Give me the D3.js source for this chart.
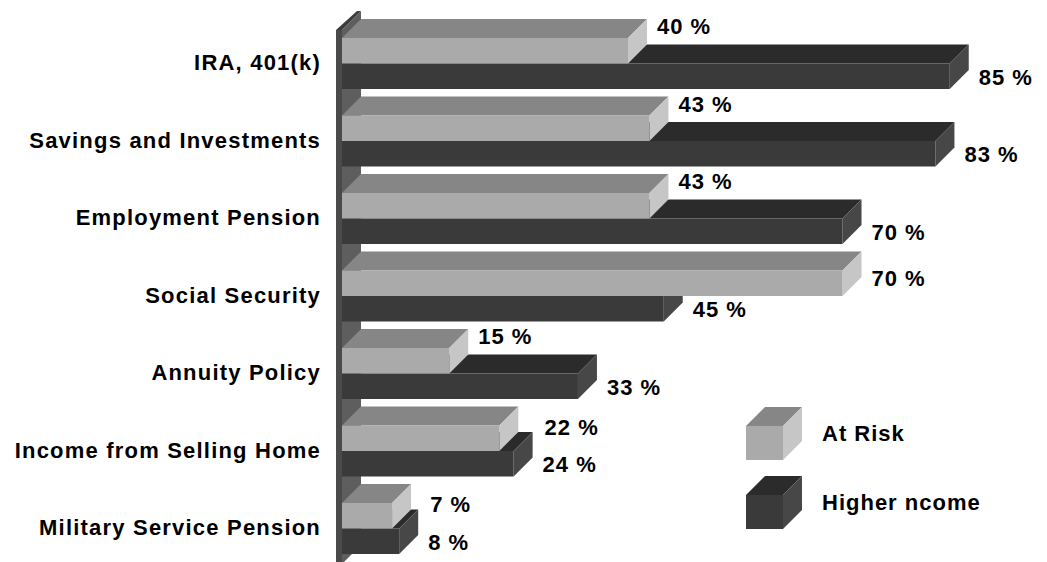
<!DOCTYPE html>
<html>
<head>
<meta charset="utf-8">
<script src="https://cdn.jsdelivr.net/npm/d3@7"></script>
<style>
  html, body { margin: 0; padding: 0; background: #ffffff; }
  svg { display: block; }
  text { font-family: "Liberation Sans", Arial, sans-serif; font-weight: bold; fill: #000; }
</style>
</head>
<body>
<svg id="chart" width="1047" height="562"></svg>
<script>
// Retirement income sources, share of respondents (%)
const categories = [
  "IRA, 401(k)",
  "Savings and Investments",
  "Employment Pension",
  "Social Security",
  "Annuity Policy",
  "Income from Selling Home",
  "Military Service Pension"
];
const seriesNames = ["At Risk", "Higher ncome"];
const atRisk = [40, 43, 43, 70, 15, 22, 7];
const higherIncome = [85, 83, 70, 45, 33, 24, 8];

const W = 1047, H = 562;
const depthX = 19, depthY = 19;     // oblique projection of bar depth
const fontSize = 22;

const shades = {
  "At Risk":      { front: "#aaaaaa", top: "#868686", side: "#c6c6c6" },
  "Higher ncome": { front: "#3a3a3a", top: "#2b2b2b", side: "#474747" }
};

const svg = d3.select("#chart");
svg.append("rect").attr("width", W).attr("height", H).attr("fill", "#ffffff");

const x = d3.scaleLinear().domain([0, 100]).range([342, 1057]);
const y = d3.scaleBand().domain(categories).range([38, 554])
  .paddingInner(0.342).paddingOuter(0);
const inner = d3.scaleBand().domain(seriesNames).range([0, y.bandwidth()]);

const pts = a => a.map(p => p.join(",")).join(" ");

// draw a 3D box: front face plus top and right side faces
function box(g, x0, x1, yTop, h, c) {
  g.append("polygon")
    .attr("points", pts([[x0, yTop], [x1, yTop], [x1 + depthX, yTop - depthY], [x0 + depthX, yTop - depthY]]))
    .attr("fill", c.top);
  g.append("polygon")
    .attr("points", pts([[x1, yTop], [x1 + depthX, yTop - depthY], [x1 + depthX, yTop + h - depthY], [x1, yTop + h]]))
    .attr("fill", c.side);
  g.append("rect")
    .attr("x", x0).attr("y", yTop).attr("width", x1 - x0).attr("height", h)
    .attr("fill", c.front);
}

// left wall of the plot
const wallX = x(0), wallT = 6, wallTop = 30, wallBottom = H + 2;
const wall = svg.append("g");
wall.append("polygon")
  .attr("points", pts([[wallX, wallTop], [wallX + depthX, wallTop - depthY], [wallX + depthX, wallBottom - depthY], [wallX, wallBottom]]))
  .attr("fill", "#5e5e5e");
wall.append("polygon")
  .attr("points", pts([[wallX - wallT, wallTop], [wallX, wallTop], [wallX + depthX, wallTop - depthY], [wallX + depthX - wallT + 2, wallTop - depthY]]))
  .attr("fill", "#3c3c3c");
wall.append("rect")
  .attr("x", wallX - wallT).attr("y", wallTop).attr("width", wallT).attr("height", wallBottom - wallTop)
  .attr("fill", "#4a4a4a");

// bars: the lower series is drawn first so the upper one sits in front of its top face
const bars = svg.append("g");
categories.forEach((cat, i) => {
  const g = bars.append("g");
  const hb = inner.bandwidth();
  const yHi = y(cat) + inner("Higher ncome");
  const yAr = y(cat) + inner("At Risk");
  box(g, x(0), x(higherIncome[i]), yHi, hb, shades["Higher ncome"]);
  box(g, x(0), x(atRisk[i]), yAr, hb, shades["At Risk"]);
});

// value labels
const labels = svg.append("g").attr("font-size", fontSize).style("letter-spacing", "1px");
categories.forEach((cat, i) => {
  const hb = inner.bandwidth();
  const yHi = y(cat) + inner("Higher ncome");
  const yAr = y(cat) + inner("At Risk");
  labels.append("text")
    .attr("x", x(higherIncome[i]) + depthX + 10)
    .attr("y", yHi + hb / 2 + 1)
    .attr("dominant-baseline", "central")
    .text(higherIncome[i] + " %");
  // keep the upper label clear of the bar beneath it
  const diff = higherIncome[i] - atRisk[i];
  const lift = diff > 5 ? -24 : (diff > 0 ? -11 : -4.5);
  const anchorX = (diff > 0 && diff <= 5) ? x(higherIncome[i]) + 2 : x(atRisk[i]);
  labels.append("text")
    .attr("x", anchorX + depthX + 10)
    .attr("y", yAr + hb / 2 + lift)
    .attr("dominant-baseline", "central")
    .text(atRisk[i] + " %");
});

// category axis labels
const axis = d3.axisLeft(y).tickSize(0).tickPadding(0);
const axisG = svg.append("g").attr("transform", `translate(${321},0)`).call(axis);
axisG.select(".domain").remove();
axisG.selectAll("text")
  .attr("font-size", fontSize)
  .attr("font-family", "Liberation Sans, Arial, sans-serif")
  .attr("font-weight", "bold")
  .attr("fill", "#000")
  .attr("dy", "0.3em")
  .style("letter-spacing", "1.2px");

// legend
const legend = svg.append("g");
const legX = 746, legW = 37, legH = 34, legTop0 = 426, legStep = 69;
seriesNames.forEach((name, k) => {
  const top = legTop0 + k * legStep;
  box(legend, legX, legX + legW, top, legH, shades[name]);
  legend.append("text")
    .attr("x", 822)
    .attr("y", top + legH / 2 - 10)
    .attr("dominant-baseline", "central")
    .attr("font-size", fontSize)
    .style("letter-spacing", "1px")
    .text(name);
});
</script>
</body>
</html>
